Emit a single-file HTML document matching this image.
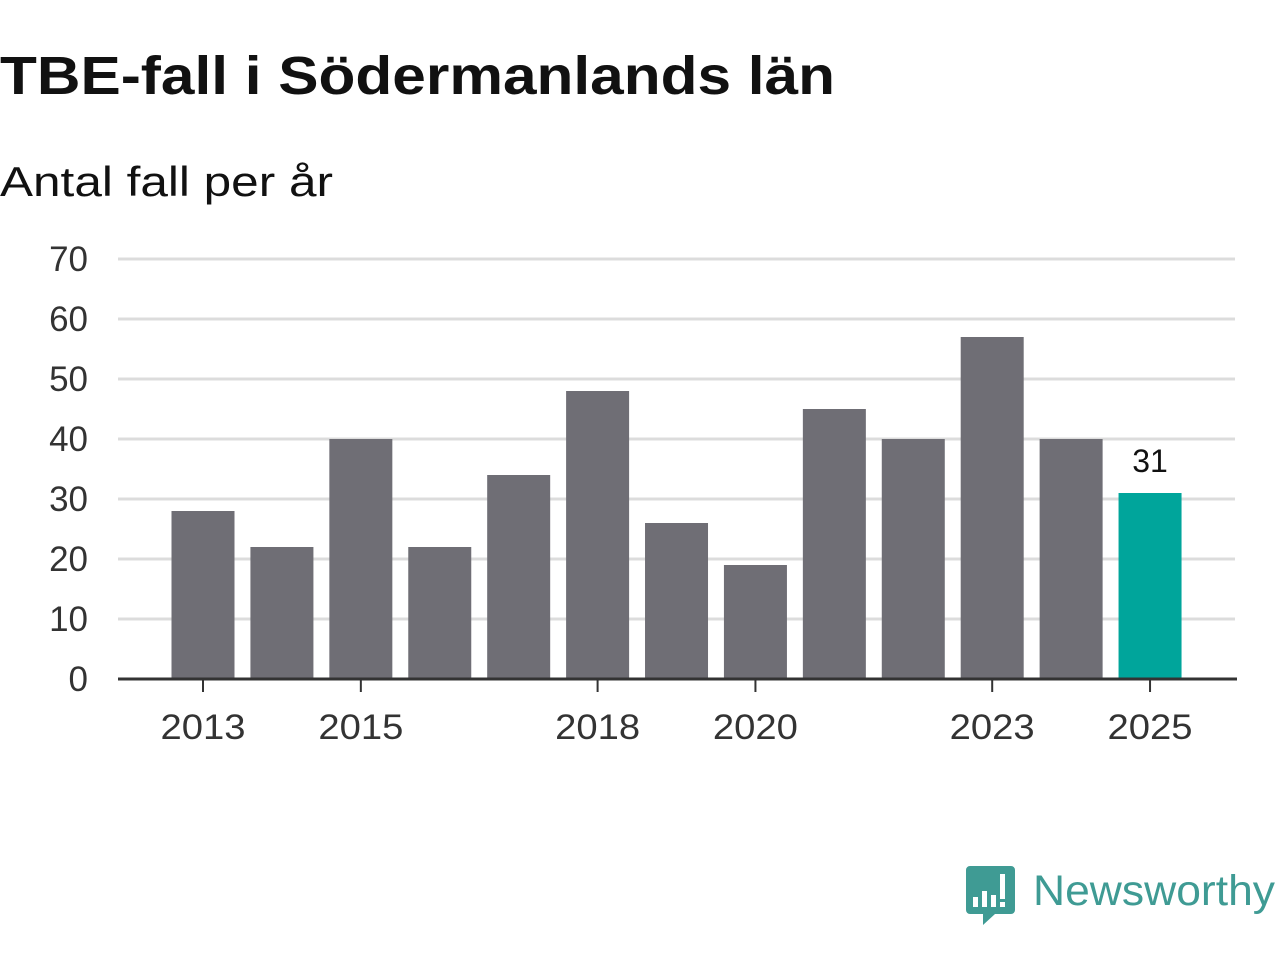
<!DOCTYPE html>
<html><head><meta charset="utf-8"><style>
body{margin:0;width:1280px;height:960px;background:#fff;overflow:hidden;font-family:"Liberation Sans",sans-serif}
svg{position:absolute;left:0;top:0}
</style></head><body>
<svg width="1280" height="960">
<text x="0" y="94" font-size="54" font-weight="bold" fill="#111" textLength="835" lengthAdjust="spacingAndGlyphs">TBE-fall i Södermanlands län</text>
<text x="0" y="196" font-size="42" fill="#111" textLength="333" lengthAdjust="spacingAndGlyphs">Antal fall per år</text>
<g id="grid"></g><g id="bars"></g><g id="xax"></g>
<g>
<path d="M970,866 h41 a4,4 0 0 1 4,4 v40 a4,4 0 0 1 -4,4 h-16 l-12,11 v-11 h-13 a4,4 0 0 1 -4,-4 v-40 a4,4 0 0 1 4,-4z" fill="#3f9b94"/>
<rect x="973" y="897" width="5" height="10" fill="#fff"/><rect x="982" y="891" width="5" height="16" fill="#fff"/><rect x="991" y="895" width="5" height="12" fill="#fff"/><rect x="1000" y="874" width="5" height="25" fill="#fff"/><rect x="1000" y="902" width="5" height="5" fill="#fff"/>
<text x="1033" y="905" font-size="43" fill="#3f9b94" textLength="242" lengthAdjust="spacingAndGlyphs">Newsworthy</text>
</g>
</svg>
<script>
const years=[2013,2014,2015,2016,2017,2018,2019,2020,2021,2022,2023,2024,2025];
const values=[28,22,40,22,34,48,26,19,45,40,57,40,31];
const yTicks=[0,10,20,30,40,50,60,70];
const xLabels=[2013,2015,2018,2020,2023,2025];
const NS="http://www.w3.org/2000/svg";
const y=v=>679-v*6;
const x=yr=>203+(yr-2013)*78.92;
function mk(tag,attrs,parent,txt){const e=document.createElementNS(NS,tag);for(const k in attrs)e.setAttribute(k,attrs[k]);if(txt!=null)e.textContent=txt;document.getElementById(parent).appendChild(e);return e;}
yTicks.forEach(t=>{
 if(t>0){const l=mk('line',{x1:118,x2:1235,y1:y(t),y2:y(t),stroke:'#dcdcdc','stroke-width':3},'grid');
 
 }
 const tx=mk('text',{x:88,y:y(t)+12,'font-size':35,fill:'#333','text-anchor':'end'},'grid',t);
 
 
});
years.forEach((yr,i)=>{
 const last=i===years.length-1;
 const r=mk('rect',{x:x(yr)-31.5,y:y(values[i]),width:63,height:values[i]*6,fill:last?'#00a59b':'#6f6e75'},'bars');
 
 
 if(last){const t=mk('text',{x:x(yr),y:y(values[i])-21,'font-size':32,fill:'#111','text-anchor':'middle'},'bars',values[i]);
 
 }
});
const ax=mk('line',{x1:118,x2:1237,y1:679,y2:679,stroke:'#333','stroke-width':3},'xax');


xLabels.forEach(yr=>{
 const tk=mk('line',{x1:x(yr),x2:x(yr),y1:679,y2:692,stroke:'#333','stroke-width':2},'xax');
 
 
 const t=mk('text',{x:x(yr),y:739,'font-size':35,fill:'#333','text-anchor':'middle',textLength:85,lengthAdjust:'spacingAndGlyphs'},'xax',yr);
 
 
});
</script>
</body></html>
